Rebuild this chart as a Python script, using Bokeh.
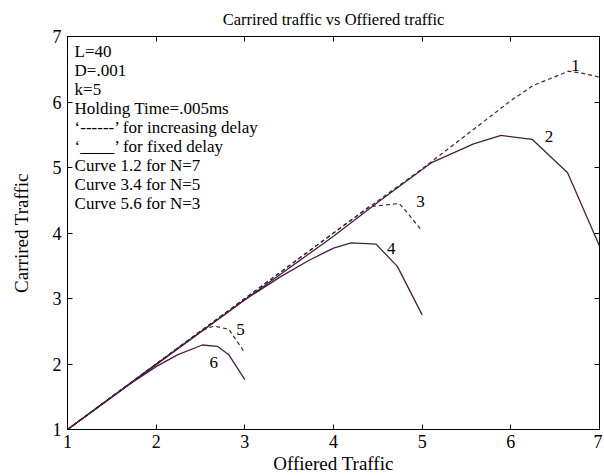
from bokeh.plotting import figure
from bokeh.models import Range1d, FixedTicker, LinearAxis, Label
from bokeh.embed import file_html
from bokeh.resources import INLINE
from bokeh.core.properties import value

# ---- data ----
c1_x = [1, 2, 3, 4, 5, 5.5, 6, 6.25, 6.65, 6.8, 7]
c1_y = [1, 2, 3, 4, 4.98, 5.5, 6.02, 6.25, 6.47, 6.44, 6.38]

c2_x = [1, 2, 3, 4, 4.5, 5.1, 5.58, 5.89, 6.24, 6.64, 7]
c2_y = [1, 1.99, 2.98, 3.95, 4.47, 5.07, 5.36, 5.49, 5.43, 4.92, 3.80]

c3_x = [1, 2, 3, 4, 4.4, 4.74, 4.82, 5]
c3_y = [1, 2, 3, 4, 4.4, 4.45, 4.33, 4.03]

c4_x = [1, 2, 3, 3.4, 3.72, 4.0, 4.2, 4.48, 4.72, 5]
c4_y = [1, 2, 2.98, 3.33, 3.58, 3.77, 3.85, 3.83, 3.49, 2.75]

c5_x = [1, 2, 2.5, 2.65, 2.82, 2.9, 3]
c5_y = [1, 2, 2.5, 2.58, 2.53, 2.37, 2.17]

c6_x = [1, 1.7, 2, 2.24, 2.52, 2.69, 2.82, 3]
c6_y = [1, 1.69, 1.96, 2.14, 2.29, 2.27, 2.14, 1.76]

curve_labels = ["1", "2", "3", "4", "5", "6"]
label_x = [6.73, 6.43, 4.98, 4.65, 2.95, 2.65]
label_y = [6.56, 5.47, 4.48, 3.77, 2.53, 2.03]

notes = [
    "L=40",
    "D=.001",
    "k=5",
    "Holding Time=.005ms",
    "\u2018------\u2019 for increasing delay",
    "\u2018____\u2019 for fixed delay",
    "Curve 1.2 for N=7",
    "Curve 3.4 for N=5",
    "Curve 5.6 for N=3",
]

ticks = [1, 2, 3, 4, 5, 6, 7]

FONT = "Liberation Serif"
LC = "#43203f"

p = figure(width=602, height=476, output_backend="svg", toolbar_location=None,
           x_range=Range1d(1, 7), y_range=Range1d(1, 7),
           min_border_left=67, min_border_right=3, min_border_top=10,
           min_border_bottom=46)

p.title.text = "Carrired traffic vs Offiered traffic"
p.title.align = "center"
p.title.text_font = FONT
p.title.text_font_style = "normal"
p.title.text_font_size = "16.5px"
p.title.text_color = "black"
p.title.standoff = 15

p.xgrid.visible = False
p.ygrid.visible = False
p.outline_line_color = "black"
p.outline_line_width = 1

def style_axis(ax, labels=True):
    ax.ticker = FixedTicker(ticks=ticks)
    ax.major_tick_in = 5
    ax.major_tick_out = 0
    ax.minor_tick_in = 0
    ax.minor_tick_out = 0
    ax.axis_line_color = "black"
    ax.major_tick_line_color = "black"
    ax.major_label_text_font = FONT
    ax.major_label_text_font_size = "18px" if labels else "0px"
    ax.major_label_text_color = "black"
    ax.major_label_standoff = 6 if labels else 0
    ax.axis_label_text_font = FONT
    ax.axis_label_text_font_size = "19px"
    ax.axis_label_text_font_style = "normal"
    ax.axis_label_text_color = "black"

style_axis(p.xaxis[0])
style_axis(p.yaxis[0])
p.xaxis.axis_label = "Offiered Traffic"
p.yaxis.axis_label = "Carrired Traffic"
p.xaxis.major_label_standoff = 5
p.xaxis.axis_label_standoff = 2
p.yaxis.axis_label_standoff = 18

top_ax = LinearAxis()
style_axis(top_ax, labels=False)
p.add_layout(top_ax, "above")
right_ax = LinearAxis()
style_axis(right_ax, labels=False)
p.add_layout(right_ax, "right")

dash = "4 3"
p.line(c1_x, c1_y, line_color=LC, line_width=1.2, line_dash=dash)
p.line(c2_x, c2_y, line_color=LC, line_width=1.3)
p.line(c3_x, c3_y, line_color=LC, line_width=1.2, line_dash=dash)
p.line(c4_x, c4_y, line_color=LC, line_width=1.3)
p.line(c5_x, c5_y, line_color=LC, line_width=1.2, line_dash=dash)
p.line(c6_x, c6_y, line_color=LC, line_width=1.3)

p.text(x=label_x, y=label_y, text=curve_labels, text_font=value(FONT),
       text_font_size="17px", text_align="center", text_baseline="middle",
       text_color="black")

note_x = 1.08
note_top = 6.77
note_step = 0.289
for i, t in enumerate(notes):
    p.add_layout(Label(x=note_x, y=note_top - i * note_step, text=t,
                       text_font=FONT, text_font_size="17px",
                       text_baseline="middle", text_align="left",
                       text_color="black"))

open("out.html", "w").write(file_html(p, INLINE))
